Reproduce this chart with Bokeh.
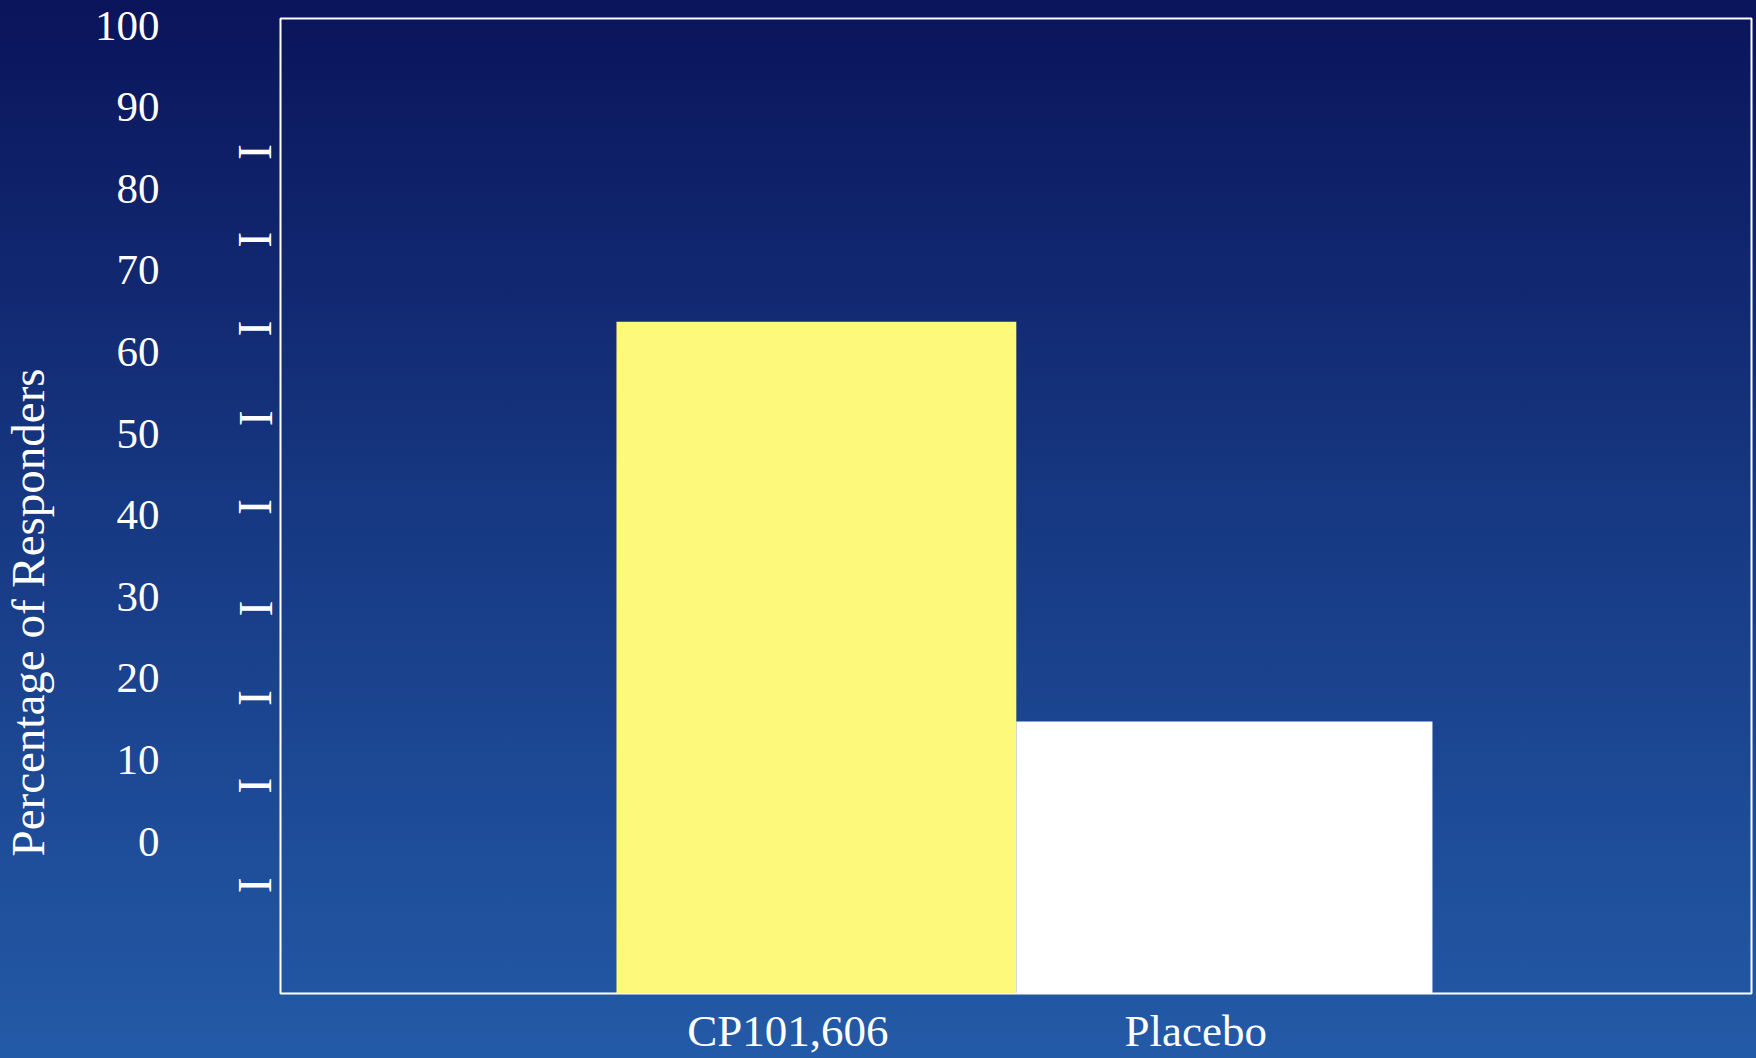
import math

from bokeh.embed import file_html
from bokeh.models import (ColumnDataSource, CustomJSTickFormatter, FixedTicker,
                          LinearAxis, Range1d, Title)
from bokeh.plotting import figure
from bokeh.resources import INLINE

# --- data -------------------------------------------------------------------
categories = ["CP101,606", "Placebo"]
responders = [68.9, 27.9]           # percentage of responders
bar_colors = ["#fdf97a", "#ffffff"]
bar_widths = [0.98, 1.02]

scale_labels = [0, 10, 20, 30, 40, 50, 60, 70, 80, 90, 100]
marker_ticks = [86.3, 77.3, 68.2, 59.0, 49.9, 39.5, 30.3, 21.3, 11.1]

FONT = "Liberation Serif"
WHITE = "#ffffff"

positions = list(range(len(categories)))
source = ColumnDataSource(dict(x=positions, top=responders, color=bar_colors,
                               width=bar_widths, name=categories))

p = figure(width=1756, height=1058, output_backend="svg", toolbar_location=None,
           x_range=Range1d(-1.3135, 2.292), y_range=Range1d(0, 100),
           x_axis_location=None, y_axis_location=None,
           min_border_left=280, min_border_right=5, min_border_top=18,
           min_border_bottom=60)

p.extra_y_ranges = {"scale": Range1d(-18.6, 100.86)}
p.extra_x_ranges = {"groups": Range1d(-1.2435, 2.362)}

p.styles = {"background": "linear-gradient(to bottom, #0a145a 0%, #163680 45%, #235aa7 100%)"}
p.border_fill_color = None
p.background_fill_color = None
p.outline_line_color = WHITE
p.outline_line_width = 2
p.xgrid.visible = False
p.ygrid.visible = False

p.vbar(x="x", top="top", bottom=0, width="width", color="color", line_color=None,
       source=source)

# short serif markers running beside the frame
marks_axis = LinearAxis(ticker=FixedTicker(ticks=marker_ticks),
                        formatter=CustomJSTickFormatter(code="return 'I'"))
marks_axis.major_label_orientation = "parallel"
marks_axis.major_label_standoff = -7
marks_axis.major_label_text_font_size = "48px"

# numeric scale
scale_axis = LinearAxis(y_range_name="scale",
                        ticker=FixedTicker(ticks=scale_labels))
scale_axis.major_label_standoff = 60
scale_axis.major_label_text_font_size = "43px"
scale_axis.axis_label = " "
scale_axis.axis_label_text_font_size = "1px"
scale_axis.axis_label_standoff = 33

for ax in (marks_axis, scale_axis):
    ax.axis_line_color = None
    ax.major_tick_line_color = None
    ax.minor_tick_line_color = None
    ax.major_label_text_color = WHITE
    ax.major_label_text_font = FONT
    p.add_layout(ax, "left")

p.add_layout(Title(text="Percentage of Responders", align="left", offset=137,
                   standoff=0, vertical_align="middle", text_color=WHITE,
                   text_font=FONT, text_font_size="47px",
                   text_font_style="normal"), "left")

group_axis = LinearAxis(x_range_name="groups",
                        ticker=FixedTicker(ticks=positions),
                        major_label_overrides={i: c for i, c in enumerate(categories)})
group_axis.axis_line_color = None
group_axis.major_tick_line_color = None
group_axis.minor_tick_line_color = None
group_axis.major_label_text_color = WHITE
group_axis.major_label_text_font = FONT
group_axis.major_label_text_font_size = "45px"
group_axis.major_label_standoff = 6
p.add_layout(group_axis, "below")

open("out.html", "w").write(file_html(p, INLINE))
